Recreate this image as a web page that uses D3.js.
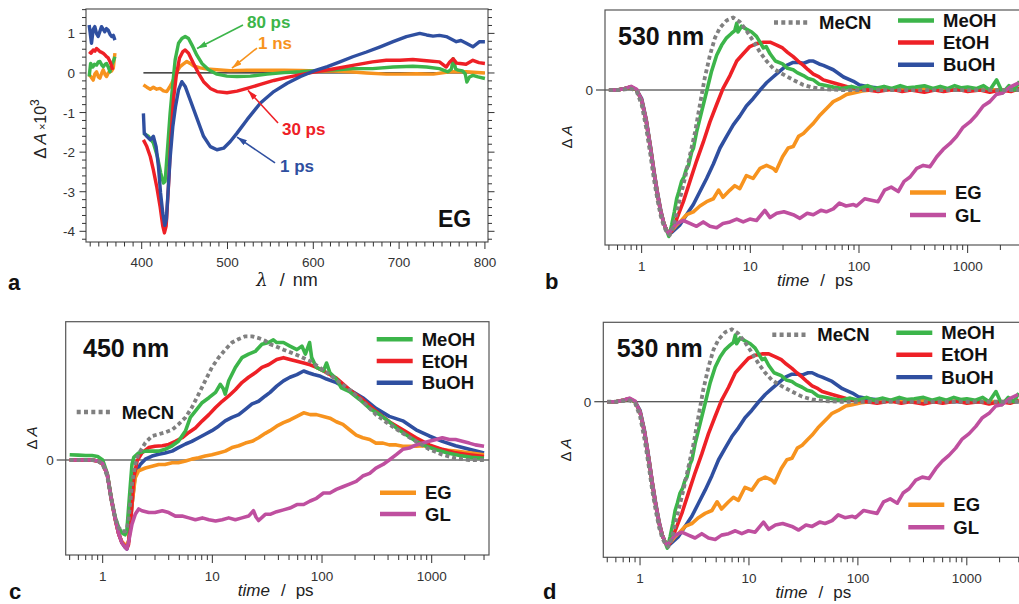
<!DOCTYPE html>
<html><head><meta charset="utf-8">
<script src="https://cdn.jsdelivr.net/npm/d3@7"></script>
<style>
body{margin:0;background:#fff;}
svg{display:block;font-family:"Liberation Sans",Arial,Helvetica,sans-serif;}
</style></head><body>
<svg id="chart" width="1019" height="604"></svg>
<script>
// ---------------- DATA ----------------
// Panel a : transient spectra in EG (wavelength nm, dA x 10^3)
const specLabels = ["1 ps", "30 ps", "80 ps", "1 ns"];
const specXTicks = [400, 500, 600, 700, 800];
const specYTicks = [1, 0, -1, -2, -3, -4];

const spec1ps_uv = [[338.8,1.21],[341.5,0.75],[343.5,1.1],[345.4,1.17],[347.3,1.0],[349.3,0.92],[351.3,1.05],[353.2,1.17],[355.2,1.1],[357,1.04],[359,1.12],[361,1.08],[363,0.98],[365,0.92],[367,0.95],[368.8,0.83]];
const spec1ps_vis = [[402,-1.02],[403,-1.52],[406,-1.6],[410,-1.69],[413.6,-1.6],[416.8,-1.86],[419.5,-2.36],[422,-3.03],[424.6,-3.54],[427,-3.85],[428.8,-3.7],[430.4,-3.12],[433,-2.19],[436.3,-1.35],[439.4,-0.85],[442.9,-0.43],[446.8,-0.22],[450.7,-0.34],[456.5,-0.68],[464.3,-1.14],[472.1,-1.6],[480,-1.86],[487.7,-1.94],[495.5,-1.9],[503.3,-1.73],[511.1,-1.52],[522.8,-1.18],[538.4,-0.76],[554,-0.47],[569.6,-0.26],[585.2,-0.09],[600.8,0.05],[616.4,0.16],[631,0.28],[646,0.41],[662,0.53],[678,0.66],[693,0.79],[708.5,0.92],[724,1.0],[732,0.96],[739.5,0.93],[747,0.95],[755,0.92],[766.7,0.79],[772,0.82],[778.3,0.75],[786,0.66],[793.8,0.79],[800,0.79]];
const spec30ps_uv = [[338.8,0.54],[341,0.5],[343.5,0.58],[345.5,0.55],[347.4,0.62],[349.5,0.58],[351.3,0.54],[353.5,0.52],[355.2,0.5],[357.5,0.45],[359.1,0.41],[361,0.38],[363,0.29],[365,0.18],[366,0.08]];
const spec30ps_vis = [[402,-1.69],[406,-1.86],[410,-2.11],[413.6,-2.45],[417.5,-2.87],[421.4,-3.37],[424.6,-3.87],[426.5,-4.04],[428.5,-3.87],[431.2,-2.87],[433.9,-1.69],[437,-0.68],[440.2,-0.09],[444,0.37],[448,0.54],[450.7,0.58],[454.6,0.5],[460.4,0.24],[466.3,-0.01],[472.1,-0.22],[480,-0.39],[487.7,-0.47],[499.4,-0.5],[511.1,-0.46],[522.8,-0.39],[538.4,-0.29],[554,-0.19],[569.6,-0.11],[585.2,-0.04],[600.8,0.02],[623,0.1],[646,0.19],[669,0.28],[685,0.32],[701,0.32],[716,0.34],[732,0.31],[747,0.28],[755,0.15],[759,0.28],[763,0.36],[767,0.25],[771,0.24],[778,0.22],[786,0.32],[793,0.26],[800,0.24]];
const spec80ps_uv = [[338.8,-0.09],[340.5,0.24],[343,0.15],[345,0.22],[347.4,0.2],[349.5,0.28],[351.3,0.29],[353.5,0.2],[355.2,0.16],[357.5,0.22],[359.1,0.24],[361,0.15],[363,0.03],[365,0.2],[366.9,0.29],[368.8,0.41]];
const spec80ps_vis = [[402,-1.52],[404,-1.55],[407.8,-1.6],[413.6,-1.77],[418.3,-2.11],[422.2,-2.53],[425.3,-2.78],[427.3,-2.74],[430,-1.94],[433.1,-1.02],[436.3,-0.26],[439,0.33],[442.9,0.75],[446.8,0.87],[450.7,0.92],[454.6,0.87],[458.5,0.71],[464.3,0.45],[470.2,0.24],[478,0.08],[487.7,-0.03],[499.4,-0.08],[511.1,-0.09],[526.7,-0.08],[546.2,-0.03],[565.7,0.01],[585.2,0.03],[604.7,0.06],[628,0.08],[646,0.11],[669,0.11],[693,0.15],[716,0.17],[732,0.15],[747,0.11],[757,0.03],[761,0.1],[763,0.36],[766,0.1],[769,0.07],[774,0.05],[777,-0.02],[779,-0.23],[782,-0.1],[786,-0.06],[792,-0.1],[800,-0.14]];
const spec1ns_uv = [[338.8,-0.05],[341,-0.1],[343.5,-0.18],[345.5,-0.02],[347.4,0.03],[349.5,-0.1],[351.3,-0.13],[353.5,0.0],[355.2,0.08],[357.5,-0.05],[359.1,-0.09],[361,0.0],[363,0.03],[365,0.05],[366.9,0.12],[368.8,0.5]];
const spec1ns_vis = [[402,-0.3],[406,-0.36],[410,-0.41],[413.6,-0.36],[417.5,-0.41],[421.4,-0.39],[425.3,-0.45],[429.2,-0.47],[432.4,-0.36],[435,-0.26],[437.8,-0.13],[440.9,0.03],[444.8,0.16],[448.7,0.23],[452.6,0.29],[456.5,0.24],[460.4,0.18],[468.2,0.13],[476,0.1],[487.7,0.08],[503.3,0.06],[522.8,0.07],[546.2,0.07],[565.7,0.07],[585.2,0.065],[604.7,0.05],[623,0.05],[643,0.03],[662,0.0],[685,-0.03],[701,-0.03],[720,-0.02],[740,-0.03],[759,0.03],[778,0.03],[800,0.0]];

// Kinetics (time ps, normalised dA)
const solvents = ["MeCN", "MeOH", "EtOH", "BuOH", "EG", "GL"];
const logTickLabels = ["1", "10", "100", "1000"];

const k530_MeCN = [[0.5,0],[0.6,0],[0.7,0.005],[0.8,0.01],[0.9,-0.01],[1.0,-0.1],[1.1,-0.26],[1.2,-0.44],[1.3,-0.62],[1.4,-0.76],[1.5,-0.87],[1.6,-0.94],[1.7,-0.98],[1.82,-1.0],[1.92,-0.96],[2.03,-0.89],[2.25,-0.75],[2.5,-0.61],[2.78,-0.45],[3.1,-0.29],[3.44,-0.1],[3.8,0.08],[4.25,0.24],[4.73,0.36],[5.26,0.43],[6.05,0.48],[6.97,0.5],[8.0,0.47],[9.2,0.41],[10.6,0.34],[12.3,0.26],[14.1,0.2],[16.2,0.15],[18.7,0.12],[21.5,0.095],[24.8,0.07],[30.8,0.035],[38,0.016],[50,0.005],[70,0],[100,0],[200,0],[500,0],[1000,0],[2000,0],[3000,0]];
const k530_MeOH = [[0.5,0],[0.6,0],[0.7,0.01],[0.8,0.02],[0.9,0.0],[1.0,-0.07],[1.1,-0.21],[1.2,-0.39],[1.3,-0.57],[1.4,-0.72],[1.5,-0.84],[1.6,-0.92],[1.7,-0.97],[1.78,-1.01],[1.89,-0.93],[2.0,-0.84],[2.1,-0.75],[2.2,-0.7],[2.33,-0.63],[2.45,-0.6],[2.59,-0.54],[2.7,-0.52],[2.88,-0.43],[3.0,-0.4],[3.2,-0.29],[3.56,-0.15],[3.96,-0.01],[4.4,0.13],[4.9,0.24],[5.45,0.31],[6.05,0.36],[6.7,0.39],[7.2,0.41],[7.5,0.46],[7.7,0.4],[8.3,0.44],[9.2,0.42],[10.3,0.4],[11.4,0.37],[12.5,0.32],[13.2,0.29],[14,0.3],[15.2,0.25],[17,0.2],[19.8,0.18],[22,0.15],[24.8,0.14],[27,0.12],[30.8,0.1],[34,0.08],[38,0.07],[43,0.04],[47,0.035],[58,0.02],[70,0.01],[85,0.025],[100,0.01],[120,0.03],[140,0.01],[170,0.025],[200,0.01],[240,0.03],[280,0.015],[330,0.02],[400,0.03],[480,0.01],[560,0.025],[650,0.01],[760,0.03],[880,0.015],[1000,0.02],[1200,0.01],[1400,0.03],[1600,0.0],[1850,0.07],[2100,-0.02],[2400,0.03],[2700,0.0],[3000,0.06]];
const k530_EtOH = [[0.5,0],[0.6,0],[0.7,0.01],[0.8,0.02],[0.9,0.0],[1.0,-0.07],[1.1,-0.21],[1.2,-0.39],[1.3,-0.57],[1.4,-0.72],[1.5,-0.84],[1.6,-0.92],[1.7,-0.97],[1.8,-0.99],[1.9,-0.97],[2.1,-0.89],[2.42,-0.77],[2.78,-0.63],[3.2,-0.49],[3.69,-0.36],[4.25,-0.22],[4.9,-0.1],[5.6,0.01],[6.5,0.1],[7.5,0.2],[8.6,0.25],[9.9,0.3],[11.4,0.32],[13.2,0.33],[15.2,0.33],[17.5,0.31],[19.8,0.29],[22,0.26],[24.8,0.23],[27.5,0.2],[30.8,0.17],[34,0.14],[38,0.11],[43,0.09],[47,0.07],[58,0.05],[78,0.023],[95,0.01],[120,0.0],[150,-0.01],[200,0.005],[250,-0.01],[300,0.0],[400,-0.015],[500,0.0],[600,-0.01],[800,0.005],[1000,-0.01],[1300,0.0],[1600,-0.015],[2000,0.0],[2500,-0.01],[3000,0.01]];
const k530_BuOH = [[0.5,0],[0.6,0],[0.7,0.01],[0.8,0.02],[0.9,0.0],[1.0,-0.06],[1.1,-0.2],[1.2,-0.38],[1.3,-0.56],[1.4,-0.71],[1.5,-0.83],[1.6,-0.92],[1.7,-0.97],[1.8,-0.99],[1.9,-0.98],[2.25,-0.93],[2.59,-0.86],[2.99,-0.79],[3.44,-0.7],[3.96,-0.61],[4.57,-0.51],[5.26,-0.4],[6.05,-0.32],[6.97,-0.24],[8.0,-0.18],[9.2,-0.11],[10.6,-0.06],[12.3,0.0],[14.1,0.05],[16.2,0.09],[18.7,0.13],[21.6,0.17],[24.8,0.19],[28,0.19],[31,0.185],[35,0.2],[38,0.2],[43,0.18],[47,0.17],[58,0.14],[72,0.09],[89,0.06],[101,0.035],[125,0.02],[170,0.01],[250,0.005],[400,0.0],[700,0.0],[1000,0.0],[2000,0.0],[3000,0.0]];
const k530_EG = [[0.5,0],[0.6,0],[0.7,0.01],[0.8,0.02],[0.9,0.0],[1.0,-0.07],[1.1,-0.21],[1.2,-0.39],[1.3,-0.57],[1.4,-0.72],[1.5,-0.84],[1.6,-0.92],[1.7,-0.97],[1.8,-0.99],[1.9,-0.97],[2.1,-0.93],[2.25,-0.91],[2.59,-0.86],[2.99,-0.84],[3.44,-0.8],[3.96,-0.77],[4.57,-0.75],[5.1,-0.69],[5.6,-0.74],[6.5,-0.69],[7.2,-0.66],[8.0,-0.68],[9.2,-0.59],[10.6,-0.61],[12.3,-0.54],[14.1,-0.52],[16.2,-0.54],[17.2,-0.56],[19.8,-0.46],[22.3,-0.4],[24.8,-0.39],[27.8,-0.32],[30.8,-0.3],[34.6,-0.26],[38,-0.23],[43,-0.18],[47,-0.15],[53,-0.11],[58,-0.08],[66,-0.06],[77,-0.03],[89,-0.02],[107,-0.007],[150,0.005],[250,0.0],[400,0.01],[600,0.0],[1000,0.005],[2000,0.0],[3000,0.005]];
const k530_GL = [[0.5,0],[0.6,0],[0.7,0.01],[0.8,0.025],[0.9,0.005],[1.0,-0.07],[1.1,-0.21],[1.2,-0.39],[1.3,-0.57],[1.4,-0.72],[1.5,-0.84],[1.6,-0.92],[1.7,-0.97],[1.78,-0.99],[1.9,-0.96],[2.1,-0.92],[2.42,-0.9],[2.78,-0.92],[3.2,-0.94],[3.69,-0.91],[4.25,-0.94],[4.9,-0.95],[5.6,-0.92],[6.5,-0.91],[7.5,-0.89],[8.6,-0.91],[9.9,-0.89],[11.4,-0.9],[13.6,-0.83],[15.2,-0.88],[17.5,-0.85],[20.4,-0.84],[24.8,-0.86],[28.6,-0.885],[33.4,-0.85],[38,-0.86],[44.6,-0.83],[50,-0.84],[58,-0.82],[66,-0.78],[76,-0.8],[89,-0.79],[95,-0.8],[113,-0.75],[130,-0.76],[150,-0.77],[172,-0.69],[198,-0.67],[230,-0.7],[260,-0.63],[295,-0.6],[340,-0.54],[390,-0.52],[450,-0.53],[520,-0.46],[595,-0.41],[685,-0.37],[790,-0.32],[900,-0.26],[1050,-0.22],[1210,-0.17],[1390,-0.11],[1600,-0.08],[1840,-0.03],[2100,-0.02],[2450,0.02],[2950,0.05]];

const k450_MeCN = [[0.5,0],[0.6,0],[0.7,0],[0.8,0],[0.9,-0.01],[1.0,-0.05],[1.1,-0.18],[1.2,-0.45],[1.3,-0.65],[1.4,-0.76],[1.5,-0.8],[1.6,-0.8],[1.66,-0.78],[1.73,-0.65],[1.85,-0.27],[1.98,-0.05],[2.1,0.05],[2.2,0.1],[2.45,0.195],[2.82,0.27],[3.24,0.29],[3.7,0.31],[4.3,0.34],[4.9,0.4],[5.7,0.48],[6.5,0.59],[7.5,0.74],[8.6,0.89],[9.9,1.04],[11.4,1.15],[13.1,1.24],[15.1,1.32],[17.4,1.36],[20,1.39],[23,1.39],[26.4,1.37],[30.4,1.34],[33.6,1.3],[37.5,1.28],[44.5,1.24],[59,1.18],[78,1.11],[103,1.01],[135,0.9],[178,0.79],[235,0.66],[310,0.51],[410,0.4],[545,0.3],[720,0.21],[950,0.12],[1250,0.06],[1650,0.02],[2200,0.0],[3000,0.0]];
const k450_MeOH = [[0.5,0.06],[0.6,0.055],[0.7,0.05],[0.8,0.05],[0.9,0.04],[1.0,0.0],[1.1,-0.15],[1.2,-0.43],[1.3,-0.64],[1.4,-0.76],[1.5,-0.82],[1.6,-0.84],[1.66,-0.8],[1.72,-0.55],[1.79,-0.27],[1.85,-0.05],[1.92,0.03],[2.13,0.08],[2.45,0.1],[2.82,0.1],[3.24,0.1],[3.7,0.12],[4.3,0.16],[4.9,0.21],[5.7,0.33],[6.3,0.48],[7.0,0.55],[8.0,0.64],[9.3,0.7],[10.7,0.76],[11.8,0.85],[12.6,0.8],[13.1,0.74],[14.1,0.89],[16.2,1.04],[18.6,1.15],[21.4,1.19],[24.6,1.22],[28.3,1.3],[32.5,1.32],[36,1.35],[38.6,1.32],[44.5,1.32],[51,1.28],[59,1.24],[65.5,1.28],[70.5,1.19],[77,1.32],[80.5,1.15],[89,1.04],[103,1.0],[110,1.09],[118,0.98],[135,0.91],[150,0.81],[178,0.77],[220,0.68],[272,0.58],[335,0.51],[400,0.44],[475,0.36],[585,0.285],[720,0.21],[890,0.155],[1100,0.115],[1400,0.08],[1800,0.05],[2300,0.03],[3000,0.02]];
const k450_EtOH = [[0.5,0],[0.6,0],[0.7,0],[0.8,0],[0.9,-0.01],[1.0,-0.04],[1.1,-0.16],[1.2,-0.44],[1.3,-0.66],[1.4,-0.83],[1.5,-0.93],[1.6,-0.97],[1.68,-0.98],[1.72,-0.95],[1.79,-0.72],[1.92,-0.2],[2.06,-0.01],[2.28,0.08],[2.63,0.14],[3.0,0.155],[3.5,0.16],[4.0,0.175],[4.6,0.21],[5.3,0.25],[6.1,0.31],[7.0,0.36],[8.1,0.44],[9.3,0.51],[10.7,0.59],[12.3,0.66],[14.1,0.72],[16.2,0.79],[18.6,0.87],[21.4,0.93],[24.6,0.98],[28.3,1.04],[32.5,1.07],[38.6,1.13],[44.5,1.15],[51,1.13],[59,1.11],[68,1.09],[78,1.07],[89,1.04],[103,1.0],[135,0.92],[178,0.79],[235,0.68],[310,0.55],[410,0.43],[545,0.34],[720,0.25],[950,0.17],[1250,0.12],[1650,0.08],[2200,0.06],[3000,0.04]];
const k450_BuOH = [[0.5,0],[0.6,0],[0.7,0],[0.8,0],[0.9,-0.01],[1.0,-0.04],[1.1,-0.16],[1.2,-0.44],[1.3,-0.66],[1.4,-0.83],[1.5,-0.93],[1.6,-0.98],[1.66,-1.0],[1.73,-0.9],[1.85,-0.5],[1.98,-0.16],[2.2,-0.05],[2.45,0.01],[2.82,0.045],[3.24,0.065],[3.7,0.08],[4.3,0.1],[4.9,0.14],[5.7,0.18],[6.5,0.21],[7.5,0.25],[8.6,0.29],[9.9,0.33],[11.4,0.38],[13.1,0.44],[15.1,0.48],[17.4,0.51],[20,0.57],[23,0.63],[26.4,0.66],[30.4,0.72],[33.6,0.76],[38.6,0.83],[44.5,0.89],[51,0.93],[59,0.96],[68,1.0],[75,0.98],[84,0.96],[97,0.94],[110,0.91],[135,0.87],[178,0.79],[235,0.7],[310,0.58],[410,0.49],[545,0.44],[720,0.34],[950,0.27],[1250,0.21],[1650,0.16],[2200,0.12],[3000,0.08]];
const k450_EG = [[0.5,0],[0.6,0],[0.7,0],[0.8,0],[0.9,-0.01],[1.0,-0.04],[1.1,-0.16],[1.2,-0.44],[1.3,-0.66],[1.4,-0.83],[1.5,-0.92],[1.6,-0.95],[1.66,-0.96],[1.73,-0.9],[1.85,-0.5],[1.98,-0.2],[2.13,-0.12],[2.45,-0.09],[2.82,-0.07],[3.24,-0.05],[3.7,-0.05],[4.3,-0.03],[4.9,-0.03],[5.7,-0.01],[6.5,0.01],[7.5,0.025],[8.6,0.045],[9.9,0.06],[11.4,0.08],[13.1,0.1],[15.1,0.14],[17.4,0.16],[20,0.19],[23,0.21],[26.4,0.25],[30.4,0.3],[33.6,0.33],[38.6,0.38],[44.5,0.42],[51,0.45],[59,0.49],[68,0.53],[78,0.51],[89,0.51],[103,0.49],[118,0.47],[135,0.43],[155,0.4],[178,0.34],[205,0.28],[235,0.25],[272,0.23],[310,0.19],[360,0.19],[410,0.17],[475,0.17],[545,0.155],[625,0.155],[720,0.155],[830,0.16],[950,0.155],[1100,0.135],[1250,0.115],[1650,0.1],[2200,0.08],[3000,0.06]];
const k450_GL = [[0.5,0],[0.6,0],[0.7,0],[0.8,0],[0.9,-0.01],[1.0,-0.04],[1.1,-0.16],[1.2,-0.44],[1.3,-0.66],[1.4,-0.83],[1.5,-0.93],[1.6,-0.98],[1.66,-1.0],[1.73,-0.91],[1.85,-0.72],[1.98,-0.61],[2.13,-0.55],[2.28,-0.57],[2.63,-0.59],[3.0,-0.59],[3.5,-0.57],[4.0,-0.59],[4.6,-0.63],[5.3,-0.63],[6.1,-0.65],[7.0,-0.67],[8.1,-0.65],[9.3,-0.67],[10.7,-0.685],[12.3,-0.67],[14.1,-0.65],[16.2,-0.67],[18.6,-0.65],[21.4,-0.63],[23.7,-0.57],[25,-0.64],[26.4,-0.68],[30.4,-0.61],[33.6,-0.61],[38.6,-0.58],[44.5,-0.56],[51,-0.54],[59,-0.5],[68,-0.5],[78,-0.46],[89,-0.43],[103,-0.37],[118,-0.37],[135,-0.33],[155,-0.3],[178,-0.27],[205,-0.24],[235,-0.18],[272,-0.15],[310,-0.09],[360,-0.05],[410,0.0],[475,0.06],[545,0.12],[625,0.135],[720,0.17],[830,0.19],[950,0.21],[1100,0.23],[1250,0.25],[1450,0.23],[1650,0.23],[1900,0.21],[2200,0.19],[2500,0.17],[3000,0.155]];

// ---------------- STYLE ----------------
const COL = {MeCN:"#808080", MeOH:"#3cb54a", EtOH:"#ee2026", BuOH:"#2f4fa0", EG:"#f7931e", GL:"#bf4f9f"};
const TICKCOL = "#333";
const FRAMECOL = "#555";

const svg = d3.select("#chart");
const defs = svg.append("defs");

function arrowMarker(id, color) {
  defs.append("marker").attr("id", id).attr("viewBox", "0 0 10 6")
    .attr("refX", 10).attr("refY", 3).attr("markerUnits", "userSpaceOnUse")
    .attr("markerWidth", 10).attr("markerHeight", 6).attr("orient", "auto")
    .append("path").attr("d", "M0,0 L10,3 L0,6 z").attr("fill", color);
}

// ---------------- PANEL A ----------------
(function panelA() {
  const L = 86, R = 488, T = 9, B = 242;
  const x = d3.scaleLinear().domain([335.1, 803.6]).range([L, R]);
  const y = d3.scaleLinear().domain([-4.27, 1.616]).range([B, T]);
  const g = svg.append("g");
  defs.append("clipPath").attr("id", "clipA").append("rect")
    .attr("x", L).attr("y", T).attr("width", R - L).attr("height", B - T);

  g.append("line").attr("x1", x(402)).attr("x2", x(800)).attr("y1", y(0)).attr("y2", y(0))
    .attr("stroke", "#111").attr("stroke-width", 1.2);

  const line = d3.line().x(d => x(d[0])).y(d => y(d[1]));
  const specSeries = [
    {c: COL.EG, segs: [spec1ns_uv, spec1ns_vis]},
    {c: COL.MeOH, segs: [spec80ps_uv, spec80ps_vis]},
    {c: COL.EtOH, segs: [spec30ps_uv, spec30ps_vis]},
    {c: COL.BuOH, segs: [spec1ps_uv, spec1ps_vis]}
  ];
  specSeries.forEach(s => s.segs.forEach(seg => {
    g.append("path").datum(seg).attr("d", line).attr("fill", "none")
      .attr("stroke", s.c).attr("stroke-width", 3.4).attr("stroke-linejoin", "round")
      .attr("clip-path", "url(#clipA)");
  }));

  g.append("rect").attr("x", L).attr("y", T).attr("width", R - L).attr("height", B - T)
    .attr("fill", "none").attr("stroke", FRAMECOL).attr("stroke-width", 1.2);

  d3.range(340, 801, 10).forEach(v => {
    const major = v % 100 === 0;
    g.append("line").attr("x1", x(v)).attr("x2", x(v)).attr("y1", B).attr("y2", B + (major ? 7 : 4.5))
      .attr("stroke", TICKCOL).attr("stroke-width", 1);
  });
  specXTicks.forEach(v => g.append("text").attr("x", x(v)).attr("y", B + 24.5)
    .attr("text-anchor", "middle").attr("font-size", 13.5).attr("fill", TICKCOL).text(v));
  d3.range(-21, 9).forEach(k => {
    const v = k * 0.2;
    const major = k % 5 === 0;
    const len = major ? 6.5 : 4;
    g.append("line").attr("x1", L - len).attr("x2", L).attr("y1", y(v)).attr("y2", y(v))
      .attr("stroke", TICKCOL).attr("stroke-width", 1);
    g.append("line").attr("x1", R).attr("x2", R + len).attr("y1", y(v)).attr("y2", y(v))
      .attr("stroke", TICKCOL).attr("stroke-width", 1);
  });
  specYTicks.forEach(v => g.append("text").attr("x", L - 11).attr("y", y(v) + 5)
    .attr("text-anchor", "end").attr("font-size", 13.5).attr("fill", TICKCOL).text(v));

  const xt = g.append("text").attr("x", 287).attr("y", 285.5).attr("text-anchor", "middle")
    .attr("font-size", 18).attr("fill", "#222");
  xt.append("tspan").attr("font-style", "italic").attr("font-family", "DejaVu Serif, serif").text("λ");
  xt.append("tspan").attr("dx", 12).text("/");
  xt.append("tspan").attr("dx", 8).text("nm");

  const yt = g.append("text").attr("transform", "translate(46,129) rotate(-90)")
    .attr("text-anchor", "middle").attr("font-size", 17).attr("fill", "#222");
  yt.append("tspan").text("Δ");
  yt.append("tspan").attr("dx", 3).attr("font-style", "italic").text("A");
  yt.append("tspan").attr("dx", 3).attr("font-size", 11).text("×");
  yt.append("tspan").attr("font-size", 16).text("10");
  yt.append("tspan").attr("font-size", 12).attr("dy", -7).text("3");

  svg.append("text").attr("x", 8).attr("y", 290).attr("font-size", 22).attr("font-weight", "bold")
    .attr("fill", "#111").text("a");

  g.append("text").attr("x", 438).attr("y", 227).attr("font-size", 23).attr("font-weight", "bold")
    .attr("fill", "#111").text("EG");

  const ann = [
    {label: specLabels[2], color: COL.MeOH, text: [522.7, 1.14], tail: [518.1, 1.21], head: [464.5, 0.62]},
    {label: specLabels[3], color: COL.EG, text: [535.5, 0.61], tail: [534.4, 0.63], head: [505.2, 0.12]},
    {label: specLabels[1], color: COL.EtOH, text: [563.5, -1.566], tail: [558.9, -1.263], head: [523.9, -0.44]},
    {label: specLabels[0], color: COL.BuOH, text: [561.2, -2.5], tail: [555.4, -2.273], head: [511.1, -1.62]}
  ];
  ann.forEach((a, i) => {
    arrowMarker("arr" + i, a.color);
    g.append("line").attr("x1", x(a.tail[0])).attr("y1", y(a.tail[1]))
      .attr("x2", x(a.head[0])).attr("y2", y(a.head[1]))
      .attr("stroke", a.color).attr("stroke-width", 1.6).attr("marker-end", "url(#arr" + i + ")");
    g.append("text").attr("x", x(a.text[0])).attr("y", y(a.text[1]))
      .attr("font-size", 17).attr("font-weight", "bold").attr("fill", a.color).text(a.label);
  });
})();

// ---------------- KINETIC PANELS ----------------
function kinetic(cfg) {
  const g = svg.append("g");
  const {L, R, T, B} = cfg;
  const x = d3.scaleLog().domain(cfg.xDomain).range([L, R]);
  const y = d3.scaleLinear().domain(cfg.yDomain).range([B, T]);
  defs.append("clipPath").attr("id", cfg.id).append("rect")
    .attr("x", L).attr("y", T).attr("width", R - L).attr("height", B - T);

  g.append("line").attr("x1", L - 9).attr("x2", R).attr("y1", y(0)).attr("y2", y(0))
    .attr("stroke", "#222").attr("stroke-width", 1.2);
  g.append("text").attr("x", L - 12).attr("y", y(0) + 5).attr("text-anchor", "end")
    .attr("font-size", 13.5).attr("fill", TICKCOL).text("0");

  const line = d3.line().x(d => x(d[0])).y(d => y(d[1]));
  cfg.order.forEach(name => {
    const p = g.append("path").datum(cfg.data[name]).attr("d", line).attr("fill", "none")
      .attr("stroke", COL[name]).attr("stroke-linejoin", "round")
      .attr("clip-path", "url(#" + cfg.id + ")");
    if (name === "MeCN") p.attr("stroke-width", 3.8).attr("stroke-dasharray", "4,3");
    else p.attr("stroke-width", 3.6);
  });

  g.append("rect").attr("x", L).attr("y", T).attr("width", R - L).attr("height", B - T)
    .attr("fill", "none").attr("stroke", FRAMECOL).attr("stroke-width", 1.2);

  const ticks = [];
  [0.1, 1, 10, 100, 1000].forEach(dec => d3.range(1, 10).forEach(m => {
    const t = dec * m;
    if (t >= cfg.xDomain[0] && t <= 3000) ticks.push(t);
  }));
  ticks.forEach(t => {
    const major = [1, 10, 100, 1000].includes(Math.round(t * 1000) / 1000);
    g.append("line").attr("x1", x(t)).attr("x2", x(t)).attr("y1", B).attr("y2", B + (major ? 8 : 5))
      .attr("stroke", TICKCOL).attr("stroke-width", 1);
  });
  [1, 10, 100, 1000].forEach((t, i) => g.append("text").attr("x", x(t)).attr("y", B + 26)
    .attr("text-anchor", "middle").attr("font-size", 13.5).attr("fill", TICKCOL).text(logTickLabels[i]));

  const xt = g.append("text").attr("x", L + 210).attr("y", B + 40.5).attr("text-anchor", "middle")
    .attr("font-size", 17).attr("fill", "#222");
  xt.append("tspan").attr("font-style", "italic").text("time");
  xt.append("tspan").attr("dx", 11).text("/");
  xt.append("tspan").attr("dx", 10).text("ps");

  const yt = g.append("text").attr("transform", `translate(${cfg.yTitle[0]},${cfg.yTitle[1]}) rotate(-90)`)
    .attr("text-anchor", "middle").attr("font-size", 15).attr("fill", "#222");
  yt.append("tspan").text("Δ");
  yt.append("tspan").attr("dx", 3).attr("font-style", "italic").text("A");

  svg.append("text").attr("x", cfg.letter[0]).attr("y", cfg.letter[1]).attr("font-size", 22)
    .attr("font-weight", "bold").attr("fill", "#111").text(cfg.letterText);

  g.append("text").attr("x", cfg.title[0]).attr("y", cfg.title[1]).attr("font-size", 25)
    .attr("font-weight", "bold").attr("fill", "#111").text(cfg.titleText);

  cfg.legend.forEach(it => {
    const ln = g.append("line").attr("x1", it.x).attr("x2", it.x + 36).attr("y1", it.y).attr("y2", it.y)
      .attr("stroke", COL[it.name]).attr("stroke-width", 4.4);
    if (it.name === "MeCN") ln.attr("stroke-dasharray", "4,3.3");
    g.append("text").attr("x", it.x + 45).attr("y", it.y + 6.5).attr("font-size", 18.5)
      .attr("font-weight", "bold").attr("fill", "#111").text(it.name);
  });
}

const data530 = {MeCN: k530_MeCN, MeOH: k530_MeOH, EtOH: k530_EtOH, BuOH: k530_BuOH, EG: k530_EG, GL: k530_GL};
const data450 = {MeCN: k450_MeCN, MeOH: k450_MeOH, EtOH: k450_EtOH, BuOH: k450_BuOH, EG: k450_EG, GL: k450_GL};
const order = ["BuOH", "EG", "EtOH", "MeOH", "GL", "MeCN"];

function legend530(L, T) {
  return [
    {name: solvents[0], x: L + 169, y: T + 12.5},
    {name: solvents[1], x: L + 293, y: T + 10.5},
    {name: solvents[2], x: L + 293, y: T + 32.5},
    {name: solvents[3], x: L + 293, y: T + 54.8},
    {name: solvents[4], x: L + 305, y: T + 182.5},
    {name: solvents[5], x: L + 305, y: T + 205}
  ];
}

kinetic({id: "clipB", L: 605, R: 1024, T: 10, B: 245, xDomain: [0.46, 3300], yDomain: [-1.069, 0.552],
  data: data530, order, yTitle: [572, 137], letter: [545, 289], letterText: "b",
  title: [618, 45], titleText: "530 nm", legend: legend530(605, 10)});

kinetic({id: "clipD", L: 603.3, R: 1023.3, T: 322.3, B: 557.3, xDomain: [0.46, 3300], yDomain: [-1.073, 0.548],
  data: data530, order, yTitle: [571, 450], letter: [543, 599], letterText: "d",
  title: [616.7, 356.7], titleText: "530 nm", legend: legend530(603.3, 322.3)});

kinetic({id: "clipC", L: 65.7, R: 489, T: 321.7, B: 555, xDomain: [0.46, 3330], yDomain: [-1.067, 1.554],
  data: data450, order, yTitle: [37, 438], letter: [9, 599], letterText: "c",
  title: [83, 356.7], titleText: "450 nm",
  legend: [
    {name: solvents[1], x: 376.7, y: 339.3},
    {name: solvents[2], x: 376.7, y: 361},
    {name: solvents[3], x: 376.7, y: 382.7},
    {name: solvents[0], x: 76.7, y: 412},
    {name: solvents[4], x: 380, y: 492.7},
    {name: solvents[5], x: 380, y: 514}
  ]});
</script>
</body></html>
